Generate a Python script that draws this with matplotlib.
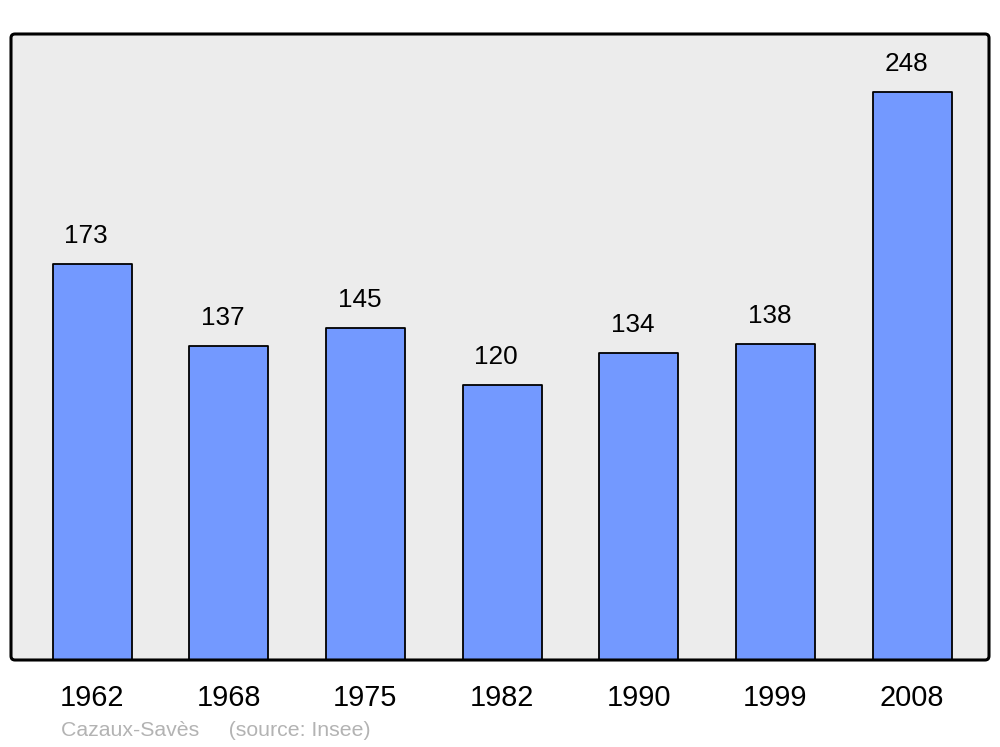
import matplotlib
matplotlib.use("Agg")
import matplotlib.pyplot as plt
from matplotlib.patches import FancyBboxPatch

years = ["1962", "1968", "1975", "1982", "1990", "1999", "2008"]
population = [173, 137, 145, 120, 134, 138, 248]

plt.rcParams['font.family'] = ['Liberation Sans', 'DejaVu Sans']

fig = plt.figure(figsize=(10, 7.47), dpi=100)
ax = fig.add_axes([0.011, 87/747, 0.978, 626/747])
ax.set_facecolor('#ececec')

x = list(range(len(years)))
bars = ax.bar(x, population, width=0.578, color='#7399ff', edgecolor='black',
              linewidth=1.3, zorder=2)
for b in bars:
    b.set_joinstyle('round')

for xi, v in zip(x, population):
    ax.annotate(str(v), (xi, v), xytext=(-6, 28), textcoords='offset pixels',
                ha='center', va='center', fontsize=18.8, color='black')

ax.set_xlim(-0.593, 6.563)
ax.set_ylim(0, 273.3)
ax.set_xticks(x)
ax.set_xticklabels(years, fontsize=20.8)
ax.tick_params(axis='x', length=0, pad=17)
ax.set_yticks([])
for s in ax.spines.values():
    s.set_visible(False)

frame = FancyBboxPatch((0.011, 87/747), 0.978, 626/747,
                       boxstyle='round,pad=0,rounding_size=0.004',
                       mutation_aspect=1000/747,
                       transform=fig.transFigure, facecolor='none',
                       edgecolor='black', linewidth=2.2, zorder=5)
fig.patches.append(frame)

fig.text(0.061, 1 - 730/747, "Cazaux-Savès     (source: Insee)", fontsize=15.3,
         color='#b3b3b3', ha='left', va='center')

fig.savefig('out.png', dpi=100, facecolor='white')
